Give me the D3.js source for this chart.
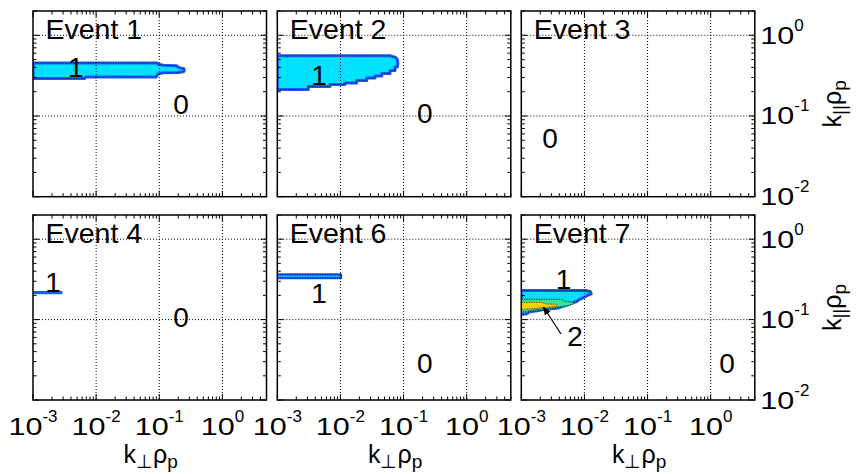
<!DOCTYPE html>
<html><head><meta charset="utf-8">
<script src="https://cdn.jsdelivr.net/npm/d3@7"></script>
<style>
body{margin:0;background:#fff}
svg{display:block}
text{font-family:"Liberation Sans",Arial,Helvetica,sans-serif;fill:#000}
</style>
</head><body>
<svg id="chart" width="857" height="474"></svg>
<script>
// ---------------- data ----------------
const eventNames = ["Event 1", "Event 2", "Event 3", "Event 4", "Event 6", "Event 7"];
const xDomain = [1e-3, 5];
const yDomain = [1e-2, 2];
const xMajorTicks = [1e-3, 1e-2, 1e-1, 1e0];
const xTickExponents = ["-3", "-2", "-1", "0"];
const yMajorTicks = [1e-2, 1e-1, 1e0];
const yTickExponents = ["-2", "-1", "0"];

// contour regions [k_perp rho_p, k_par rho_p]
const ev1Level1 = [[0.001,0.454],[0.092,0.454],[0.095,0.44],[0.115,0.425],[0.19,0.42],[0.20,0.40],[0.245,0.385],[0.25,0.365],[0.24,0.352],[0.20,0.345],[0.115,0.343],[0.095,0.33],[0.09,0.305],[0.0068,0.304],[0.0066,0.292],[0.001,0.292]];
const ev2Level1 = [[0.001,0.557],[0.062,0.557],[0.075,0.53],[0.080,0.50],[0.081,0.45],[0.080,0.405],[0.0733,0.405],[0.0733,0.366],[0.0611,0.366],[0.0611,0.336],[0.0452,0.336],[0.0452,0.313],[0.0353,0.313],[0.0353,0.296],[0.0261,0.296],[0.0261,0.275],[0.0181,0.275],[0.0181,0.257],[0.01183,0.257],[0.01183,0.245],[0.00684,0.245],[0.00684,0.232],[0.0031,0.232],[0.0031,0.213],[0.001,0.213]];
const ev4Level1 = [[0.001,0.222],[0.00285,0.222],[0.00285,0.211],[0.001,0.211]];
const ev6Level1 = [[0.001,0.364],[0.0102,0.364],[0.0102,0.329],[0.001,0.329]];
const ev7Level1 = [[0.001,0.230],[0.0106,0.230],[0.0125,0.222],[0.0128,0.209],[0.0112,0.200],[0.0101,0.191],[0.0086,0.180],[0.0075,0.168],[0.0064,0.160],[0.0055,0.153],[0.0046,0.146],[0.0038,0.139],[0.0030,0.136],[0.00235,0.134],[0.0018,0.129],[0.00137,0.125],[0.0012,0.118],[0.001,0.116]];
const ev7Level15 = [[0.001,0.179],[0.0045,0.179],[0.0047,0.170],[0.0066,0.165],[0.0068,0.158],[0.0055,0.150],[0.0038,0.143],[0.0024,0.137],[0.0014,0.129],[0.001,0.124]];
const ev7Level2 = [[0.001,0.164],[0.0022,0.164],[0.0023,0.157],[0.0036,0.155],[0.0037,0.146],[0.0022,0.141],[0.0014,0.136],[0.001,0.134]];

// contour value labels [text, k_perp, k_par]
const ev1Labels = [["1",0.00477,0.307],["0",0.221,0.105]];
const ev2Labels = [["1",0.00458,0.242],["0",0.217,0.0812]];
const ev3Labels = [["0",0.00285,0.0398]];
const ev4Labels = [["1",0.00207,0.222],["0",0.221,0.0816]];
const ev6Labels = [["1",0.00458,0.160],["0",0.217,0.0215]];
const ev7Labels = [["1",0.00466,0.238],["2",0.0071,0.047],["0",1.82,0.0215]];
const ev7Arrow = [[0.00426,0.0662],[0.00225,0.1425]];

// ---------------- layout ----------------
const colX = [33, 277.3, 521.3], panelW = 233.5;
const rowY = [11, 215], panelH = [185.7, 185];
const C_CYAN = "#00e1ff", C_BLUE = "#1a5cff", C_GREEN = "#36e39c", C_YELLOW = "#ffd200";

const panels = [
  {name: eventNames[0], col:0, row:0, regions:[{pts:ev1Level1, fill:C_CYAN, stroke:C_BLUE, sw:3}], labels: ev1Labels},
  {name: eventNames[1], col:1, row:0, regions:[{pts:ev2Level1, fill:C_CYAN, stroke:C_BLUE, sw:3}], labels: ev2Labels},
  {name: eventNames[2], col:2, row:0, regions:[], labels: ev3Labels},
  {name: eventNames[3], col:0, row:1, regions:[{pts:ev4Level1, fill:C_BLUE, stroke:C_BLUE, sw:1.5, nodots:true}], labels: ev4Labels},
  {name: eventNames[4], col:1, row:1, regions:[{pts:ev6Level1, fill:C_CYAN, stroke:C_BLUE, sw:2.5}], labels: ev6Labels},
  {name: eventNames[5], col:2, row:1, regions:[
      {pts:ev7Level1, fill:C_CYAN, stroke:C_BLUE, sw:3},
      {pts:ev7Level15, fill:C_GREEN, stroke:"#22c98a", sw:1},
      {pts:ev7Level2, fill:C_YELLOW, stroke:"#e8b800", sw:0.8}], labels: ev7Labels, arrow: ev7Arrow}
];

const svg = d3.select("#chart");
const defs = svg.append("defs");
defs.append("marker").attr("id","ah").attr("viewBox","0 0 10 10").attr("refX",9).attr("refY",5)
  .attr("markerWidth",7).attr("markerHeight",7).attr("orient","auto")
  .append("path").attr("d","M0,1L10,5L0,9Z").attr("fill","#000");

const BASE_FS = 23.5, BASE_SX = 1.3, EXP_FS = 17, EXP_RAISE = 13;
function powLabel(g, tx, ty, exp, anchor) {
  const b = g.append("text").attr("font-size", BASE_FS).text("10");
  const wb = b.node().getComputedTextLength() * BASE_SX;
  const e = g.append("text").attr("font-size", EXP_FS).text(exp);
  const we = e.node().getComputedTextLength();
  const start = anchor === "middle" ? tx - (wb + we) / 2 : tx;
  b.attr("transform", `translate(${start},${ty}) scale(${BASE_SX},1)`);
  e.attr("x", start + wb).attr("y", ty - EXP_RAISE);
}

function kLabel(t, sub) {
  t.append("tspan").text("k");
  t.append("tspan").attr("font-size", 19).attr("dy", 5).text(sub);
  t.append("tspan").attr("dy", -5).text("ρ");
  t.append("tspan").attr("font-size", 19).attr("dy", 5).text("p");
}

panels.forEach((p, i) => {
  const x0 = colX[p.col], y0 = rowY[p.row], h = panelH[p.row];
  const x = d3.scaleLog().domain(xDomain).range([x0, x0 + panelW]);
  const y = d3.scaleLog().domain(yDomain).range([y0 + h, y0]);
  const g = svg.append("g");
  const cid = "clip" + i;
  defs.append("clipPath").attr("id", cid).append("rect")
    .attr("x", x0).attr("y", y0).attr("width", panelW).attr("height", h);
  const plot = g.append("g").attr("clip-path", `url(#${cid})`);
  const line = d3.line().x(d => x(d[0])).y(d => y(d[1]));

  p.regions.forEach(r => {
    plot.append("path").attr("d", line(r.pts) + "Z")
      .attr("fill", r.fill).attr("stroke", r.stroke).attr("stroke-width", r.sw)
      .attr("stroke-linejoin", "round");
    if (!r.nodots) {
      plot.append("path").attr("d", line(r.pts) + "Z")
        .attr("fill", "none").attr("stroke", "#000").attr("stroke-width", 0.8)
        .attr("stroke-dasharray", "1,1.5");
    }
  });

  // grid
  xMajorTicks.slice(1).forEach(v => {
    plot.append("line").attr("x1", x(v)).attr("x2", x(v)).attr("y1", y0).attr("y2", y0 + h)
      .attr("stroke", "#000").attr("stroke-width", 1).attr("stroke-dasharray", "1,2");
  });
  yMajorTicks.slice(1).forEach(v => {
    plot.append("line").attr("x1", x0).attr("x2", x0 + panelW).attr("y1", y(v)).attr("y2", y(v))
      .attr("stroke", "#000").attr("stroke-width", 1).attr("stroke-dasharray", "1,2");
  });

  // ticks
  const isMajor = v => Math.abs(Math.log10(v) - Math.round(Math.log10(v))) < 1e-6;
  x.ticks().forEach(v => {
    const L = isMajor(v) ? 6 : 3.5;
    g.append("line").attr("x1", x(v)).attr("x2", x(v)).attr("y1", y0 + h).attr("y2", y0 + h - L).attr("stroke", "#000").attr("stroke-width", 1);
    g.append("line").attr("x1", x(v)).attr("x2", x(v)).attr("y1", y0).attr("y2", y0 + L).attr("stroke", "#000").attr("stroke-width", 1);
  });
  y.ticks().forEach(v => {
    const L = isMajor(v) ? 6 : 3.5;
    g.append("line").attr("y1", y(v)).attr("y2", y(v)).attr("x1", x0).attr("x2", x0 + L).attr("stroke", "#000").attr("stroke-width", 1);
    g.append("line").attr("y1", y(v)).attr("y2", y(v)).attr("x1", x0 + panelW).attr("x2", x0 + panelW - L).attr("stroke", "#000").attr("stroke-width", 1);
  });

  // frame
  g.append("rect").attr("x", x0).attr("y", y0).attr("width", panelW).attr("height", h)
    .attr("fill", "none").attr("stroke", "#000").attr("stroke-width", 1.5);

  // title
  g.append("text").attr("x", x0 + 12.5).attr("y", y0 + 28.3).attr("font-size", 28.5).text(p.name);

  // contour value labels
  p.labels.forEach(l => {
    g.append("text").attr("x", x(l[1])).attr("y", y(l[2]))
      .attr("text-anchor", "middle").attr("font-size", 28).text(l[0]);
  });

  if (p.arrow) {
    g.append("line").attr("x1", x(p.arrow[0][0])).attr("y1", y(p.arrow[0][1]))
      .attr("x2", x(p.arrow[1][0])).attr("y2", y(p.arrow[1][1]))
      .attr("stroke", "#000").attr("stroke-width", 1.2).attr("marker-end", "url(#ah)");
  }

  // bottom axis labels
  if (p.row === 1) {
    xMajorTicks.forEach((v, k) => powLabel(g, x(v), 435, xTickExponents[k], "middle"));
    const t = g.append("text").attr("x", x0 + panelW / 2 + 1).attr("y", 463)
      .attr("text-anchor", "middle").attr("font-size", 25);
    kLabel(t, "⊥");
  }
  // right axis labels
  if (p.col === 2) {
    yMajorTicks.forEach((v, k) => powLabel(g, x0 + panelW + 5.5, y(v) + 8.5, yTickExponents[k], "start"));
    const t = g.append("text")
      .attr("transform", `translate(841,${y0 + h / 2}) rotate(-90)`)
      .attr("text-anchor", "middle").attr("font-size", 25);
    kLabel(t, "||");
  }
});
</script>
</body></html>
